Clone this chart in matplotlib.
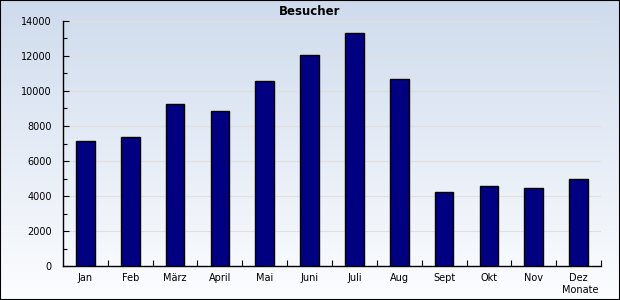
import numpy as np
import matplotlib
matplotlib.use("Agg")
import matplotlib.pyplot as plt
from matplotlib.ticker import MultipleLocator, FixedLocator

months = ["Jan", "Feb", "März", "April", "Mai", "Juni", "Juli", "Aug",
          "Sept", "Okt", "Nov", "Dez"]
visitors = [7150, 7400, 9250, 8850, 10580, 12060, 13310, 10690,
            4230, 4570, 4440, 4970]
y_ticks = [0, 2000, 4000, 6000, 8000, 10000, 12000, 14000]

fig = plt.figure(figsize=(6.2, 3.0), dpi=100)

# gradient background over the whole figure
bg = fig.add_axes([0, 0, 1, 1], zorder=-1)
grad = np.linspace(0, 1, 256).reshape(-1, 1)
top = np.array([0.81, 0.86, 0.93])
bottom = np.array([0.99, 0.993, 1.0])
img = top + (bottom - top) * grad[:, :, None]
bg.imshow(img, aspect="auto", extent=[0, 1, 0, 1])
bg.set_axis_off()
fig.patches.append(plt.Rectangle((0, 0), 1, 1, transform=fig.transFigure,
                                 fill=False, edgecolor="black", linewidth=1.5))

ax = fig.add_axes([63 / 620, 34 / 300, 538 / 620, 245 / 300])
ax.patch.set_alpha(0)

x = np.arange(len(months))
ax.bar(x, visitors, width=0.42, color="#000080", edgecolor="black",
       linewidth=1, zorder=3)

ax.set_xlim(-0.5, len(months) - 0.5)
ax.set_ylim(0, 14000)
ax.set_yticks(y_ticks)
ax.set_yticklabels([str(v) for v in y_ticks], fontsize=7)
ax.yaxis.set_minor_locator(MultipleLocator(1000))
ax.set_xticks(x)
ax.set_xticklabels(months, fontsize=7)
ax.xaxis.set_minor_locator(FixedLocator(np.arange(0.5, len(months), 1.0)))
ax.tick_params(axis="x", which="major", length=0, pad=5)
ax.tick_params(axis="x", which="minor", direction="in", length=4, width=0.8)
ax.tick_params(axis="y", which="both", direction="in", width=0.8)
ax.tick_params(axis="y", which="major", length=4, pad=8)
ax.tick_params(axis="y", which="minor", length=3)

ax.grid(axis="y", which="major", color="#e2dede", linewidth=0.8, zorder=0)
for s in ["top", "right"]:
    ax.spines[s].set_visible(False)
for s in ["left", "bottom"]:
    ax.spines[s].set_linewidth(1)

fig.text(0.5, 0.963, "Besucher", ha="center", va="center",
         fontsize=8.5, fontweight="bold")
fig.text(0.965, 0.033, "Monate", ha="right", va="center", fontsize=7)

fig.savefig("out.png", dpi=100)
